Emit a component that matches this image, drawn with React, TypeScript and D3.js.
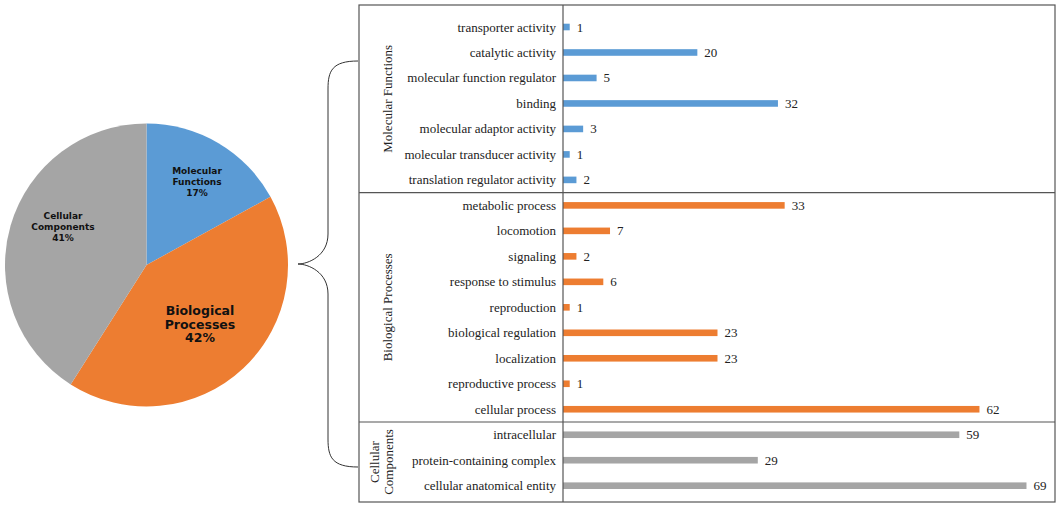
import { useEffect, useRef } from 'react';
import * as d3 from 'd3';

const pieCategories = ['Molecular Functions', 'Biological Processes', 'Cellular Components'];
const pieShares = [17, 42, 41];
const pieColors = ['#5b9bd5', '#ed7d31', '#a5a5a5'];

const mfTerms = [
  'transporter activity',
  'catalytic activity',
  'molecular function regulator',
  'binding',
  'molecular adaptor activity',
  'molecular transducer activity',
  'translation regulator activity',
];
const mfCounts = [1, 20, 5, 32, 3, 1, 2];

const bpTerms = [
  'metabolic process',
  'locomotion',
  'signaling',
  'response to stimulus',
  'reproduction',
  'biological regulation',
  'localization',
  'reproductive process',
  'cellular process',
];
const bpCounts = [33, 7, 2, 6, 1, 23, 23, 1, 62];

const ccTerms = ['intracellular', 'protein-containing complex', 'cellular anatomical entity'];
const ccCounts = [59, 29, 69];

const sectionLabels = [['Molecular Functions'], ['Biological Processes'], ['Cellular', 'Components']];

export default function App() {
  const svgRef = useRef<SVGSVGElement>(null);

  useEffect(() => {
    if (!svgRef.current) return;
    const svg = d3.select(svgRef.current);
    svg.selectAll('*').remove();

    const width = 1059;
    const height = 508;
    svg.append('rect').attr('width', width).attr('height', height).attr('fill', '#fff');

    // ---- pie ----
    const cx = 146.5;
    const cy = 265;
    const r = 141.5;
    const pie = d3.pie<number>().sort(null).value(d => d);
    const arcs = pie(pieShares);
    const arc = d3.arc<d3.PieArcDatum<number>>().innerRadius(0).outerRadius(r);

    const pg = svg.append('g').attr('transform', `translate(${cx},${cy})`);
    pg.selectAll('path')
      .data(arcs)
      .enter().append('path')
      .attr('d', arc)
      .attr('fill', (_d, i) => pieColors[i]);

    const labelPos = [
      { x: 197 - cx, y: 171 - cy, size: 9, lh: 11 },
      { x: 200 - cx, y: 311 - cy, size: 12.5, lh: 13.5 },
      { x: 63 - cx, y: 216 - cy, size: 9, lh: 11 },
    ];
    pieCategories.forEach((name, i) => {
      const lines = [...name.split(' '), `${pieShares[i]}%`];
      const p = labelPos[i];
      const t = pg.append('text')
        .attr('text-anchor', 'middle')
        .attr('font-family', 'DejaVu Sans, Verdana, sans-serif')
        .attr('font-weight', 'bold')
        .attr('font-size', p.size)
        .attr('fill', '#111');
      lines.forEach((ln, j) => {
        t.append('tspan')
          .attr('x', p.x)
          .attr('y', p.y + j * p.lh + p.size * 0.35)
          .text(ln);
      });
    });

    // ---- bars ----
    const terms = [...mfTerms, ...bpTerms, ...ccTerms];
    const counts = [...mfCounts, ...bpCounts, ...ccCounts];
    const colorIdx = [
      ...mfTerms.map(() => 0),
      ...bpTerms.map(() => 1),
      ...ccTerms.map(() => 2),
    ];

    const boxLeft = 359;
    const boxRight = 1055;
    const boxTop = 5;
    const boxBottom = 502;
    const axisX = 563;

    const yScale = d3.scalePoint<string>()
      .domain(terms)
      .range([27, 485.7]);
    const step = yScale.step();

    const xScale = d3.scaleLinear()
      .domain([0, 70])
      .range([axisX, 1033.2]);

    const bg = svg.append('g');
    bg.selectAll('rect.bar')
      .data(terms)
      .enter().append('rect')
      .attr('class', 'bar')
      .attr('x', xScale(0))
      .attr('y', d => (yScale(d) as number) - 3.3)
      .attr('width', (_d, i) => xScale(counts[i]) - xScale(0))
      .attr('height', 6.6)
      .attr('fill', (_d, i) => pieColors[colorIdx[i]]);

    bg.selectAll('text.val')
      .data(terms)
      .enter().append('text')
      .attr('class', 'val')
      .attr('x', (_d, i) => xScale(counts[i]) + 7)
      .attr('y', d => (yScale(d) as number) + 4.5)
      .attr('font-family', 'Liberation Serif, Times New Roman, serif')
      .attr('font-size', 13)
      .attr('fill', '#222')
      .text((_d, i) => counts[i]);

    bg.selectAll('text.cat')
      .data(terms)
      .enter().append('text')
      .attr('class', 'cat')
      .attr('x', axisX - 7)
      .attr('y', d => (yScale(d) as number) + 4.5)
      .attr('text-anchor', 'end')
      .attr('font-family', 'Liberation Serif, Times New Roman, serif')
      .attr('font-size', 13)
      .attr('fill', '#222')
      .text(d => d);

    // section frame
    const groups = [mfTerms, bpTerms, ccTerms];
    const sectionEdges: number[] = [boxTop];
    let acc = 0;
    groups.forEach((g, gi) => {
      acc += g.length;
      if (gi < groups.length - 1) {
        sectionEdges.push((yScale(terms[acc - 1]) as number) + step / 2);
      }
    });
    sectionEdges.push(boxBottom);

    const frame = svg.append('g')
      .attr('stroke', '#555')
      .attr('stroke-width', 1.2)
      .attr('fill', 'none');
    frame.append('rect')
      .attr('x', boxLeft)
      .attr('y', boxTop)
      .attr('width', boxRight - boxLeft)
      .attr('height', boxBottom - boxTop);
    frame.append('line')
      .attr('x1', axisX).attr('x2', axisX)
      .attr('y1', boxTop).attr('y2', boxBottom);
    sectionEdges.slice(1, -1).forEach(y => {
      frame.append('line')
        .attr('x1', boxLeft).attr('x2', boxRight)
        .attr('y1', y).attr('y2', y);
    });

    // rotated section labels
    sectionLabels.forEach((lines, i) => {
      const midY = (sectionEdges[i] + sectionEdges[i + 1]) / 2;
      const baseX = lines.length === 1 ? 392 : 379;
      const t = svg.append('text')
        .attr('transform', `translate(${baseX},${midY}) rotate(-90)`)
        .attr('text-anchor', 'middle')
        .attr('font-family', 'Liberation Serif, Times New Roman, serif')
        .attr('font-size', 13)
        .attr('fill', '#222');
      lines.forEach((ln, j) => {
        t.append('tspan').attr('x', 0).attr('y', j * 14).text(ln);
      });
    });

    // brace from pie to the bar panel
    const bx = boxLeft - 1;
    const bTop = 61;
    const bBot = 467;
    const tipX = 298;
    const tipY = cy - 1;
    const midX = 328;
    const path = d3.path();
    path.moveTo(bx, bTop);
    path.bezierCurveTo(midX + 4, bTop, midX, bTop + 10, midX, bTop + 28);
    path.lineTo(midX, tipY - 30);
    path.bezierCurveTo(midX, tipY - 8, tipX + 10, tipY, tipX, tipY);
    path.bezierCurveTo(tipX + 10, tipY, midX, tipY + 8, midX, tipY + 30);
    path.lineTo(midX, bBot - 28);
    path.bezierCurveTo(midX, bBot - 10, midX + 4, bBot, bx, bBot);
    svg.append('path')
      .attr('d', path.toString())
      .attr('fill', 'none')
      .attr('stroke', '#333')
      .attr('stroke-width', 1);
  }, []);

  return (
    <svg
      ref={svgRef}
      width={1059}
      height={508}
      style={{ position: 'absolute', left: 0, top: 0 }}
    ></svg>
  );
}
